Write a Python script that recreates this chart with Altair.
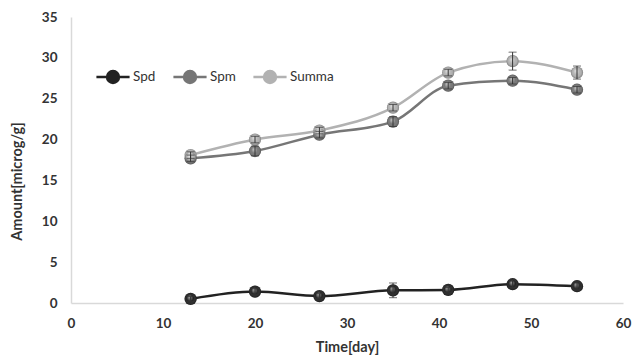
import altair as alt
import pandas as pd

# Sampling days and measured amounts (microg/g) with their errors
days = [13, 20, 27, 35, 41, 48, 55]
series = ["Spd", "Spm", "Summa"]
spd = [0.5, 1.4, 0.85, 1.55, 1.6, 2.3, 2.05]
spm = [17.7, 18.6, 20.6, 22.2, 26.6, 27.2, 26.1]
summa = [18.1, 20.0, 21.1, 23.9, 28.2, 29.6, 28.2]
spd_err = [0.3, 0.4, 0.3, 0.9, 0.3, 0.4, 0.5]
spm_err = [0.4, 0.6, 0.4, 0.6, 0.4, 0.4, 0.4]
summa_err = [0.4, 0.4, 0.4, 0.4, 0.4, 1.1, 0.8]

rows = []
for name, vals, errs in zip(series, [spd, spm, summa], [spd_err, spm_err, summa_err]):
    for d, v, e in zip(days, vals, errs):
        rows.append({"day": d, "amount": v, "lo": v - e, "hi": v + e, "series": name})
df = pd.DataFrame(rows)

font = "Lato"
colors = ["#222222", "#767676", "#b2b2b2"]

x_enc = alt.X(
    "day:Q",
    scale=alt.Scale(domain=[0, 60]),
    axis=alt.Axis(values=[0, 10, 20, 30, 40, 50, 60], title="Time[day]"),
)
y_enc = alt.Y(
    "amount:Q",
    scale=alt.Scale(domain=[0, 35]),
    axis=alt.Axis(values=[0, 5, 10, 15, 20, 25, 30, 35], title="Amount[microg/g]"),
)

legend = alt.Legend(
    title=None,
    orient="none",
    legendX=24,
    legendY=42,
    direction="horizontal",
    symbolType="M -1 0 L -0.36 0 M 0.36 0 L 1 0 M -0.36 0 A 0.36 0.36 0 1 1 0.36 0 A 0.36 0.36 0 1 1 -0.36 0",
    symbolSize=1100,
    symbolStrokeWidth=2.5,
    labelFont=font,
    labelFontSize=13.5,
    labelColor="#333333",
    labelOffset=2,
    columnPadding=12,
)

color_enc = alt.Color(
    "series:N",
    scale=alt.Scale(domain=series, range=colors),
    legend=legend,
)

lines = alt.Chart(df).mark_line(strokeWidth=2.5, interpolate="monotone").encode(
    x=x_enc, y=y_enc, color=color_enc
)

dots = alt.Chart(df).mark_point(filled=True, size=150, opacity=1).encode(
    x="day:Q", y="amount:Q", color=color_enc
)

# Spherical shading on top of each marker
shine = alt.Chart(df).mark_point(
    filled=True,
    size=150,
    opacity=1,
    fill=alt.Gradient(
        gradient="radial",
        x1=0.4, y1=0.35, r1=0,
        x2=0.5, y2=0.5, r2=0.5,
        stops=[
            alt.GradientStop(color="rgba(255,255,255,0.6)", offset=0),
            alt.GradientStop(color="rgba(255,255,255,0.0)", offset=0.55),
            alt.GradientStop(color="rgba(0,0,0,0.3)", offset=1),
        ],
    ),
).encode(x="day:Q", y="amount:Q")

err_rules = alt.Chart(df).mark_rule(color="#333333", strokeWidth=1).encode(
    x="day:Q", y="lo:Q", y2="hi:Q"
)
caps_hi = alt.Chart(df).mark_tick(color="#333333", orient="horizontal", size=8, thickness=1).encode(
    x="day:Q", y="hi:Q"
)
caps_lo = alt.Chart(df).mark_tick(color="#333333", orient="horizontal", size=8, thickness=1).encode(
    x="day:Q", y="lo:Q"
)

chart = (
    alt.layer(lines, dots, shine, err_rules, caps_hi, caps_lo)
    .properties(
        width=552,
        height=286,
        autosize=alt.AutoSizeParams(type="none"),
        padding={"left": 71, "top": 17, "right": 10, "bottom": 54},
    )
    .configure_view(stroke=None)
    .configure_axis(
        grid=False,
        ticks=False,
        labelFlush=False,
        domainColor="#d9d9d9",
        domainWidth=1.5,
        labelFont=font,
        labelFontSize=13.5,
        labelFontWeight="bold",
        labelColor="#333333",
        titleFont=font,
        titleFontSize=14.5,
        titleFontWeight="bold",
        titleColor="#333333",
    )
    .configure_axisX(labelPadding=13, titleX=276, titleY=44, titleBaseline="middle")
    .configure_axisY(labelPadding=14, titleX=-54, titleY=164, titleBaseline="middle", titleAlign="center")
)

chart.save("out.html", embed_options={"renderer": "svg", "actions": False})
